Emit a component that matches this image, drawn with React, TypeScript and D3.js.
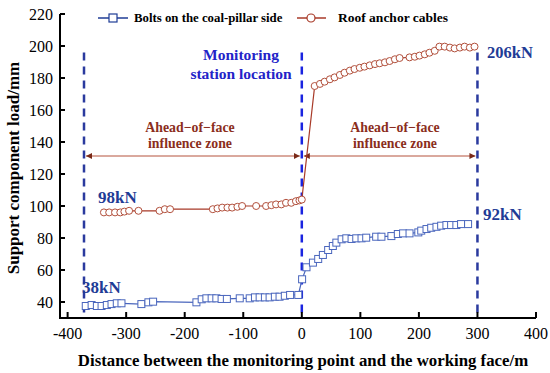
import React from "react";
import * as d3 from "d3";

// roof anchor cables (red circles)
const cableX = [-338, -329, -319, -310, -303, -295, -279, -243, -234, -225, -152, -144, -136, -127, -119, -110, -102, -78, -61, -52, -44, -35, -27, -18, -10, -4, 0,
  22, 31, 39, 48, 56, 65, 73, 82, 90, 99, 107, 116, 125, 133, 142, 150, 159, 167, 184, 193, 201, 210, 218, 227, 235, 244, 253, 261, 270, 278, 287, 295];
const cableY = [96, 96, 96, 96, 96.5, 97, 97, 97, 98, 98, 98, 98.5, 99, 99, 99, 99.5, 100, 100, 100, 100.5, 101, 101, 102, 102, 103, 103.5, 104,
  175, 176.3, 177.7, 179.2, 180.4, 181.9, 183.3, 184.6, 185.6, 186.4, 187.1, 187.9, 188.7, 189.2, 189.8, 190.6, 191.7, 192.5, 192.9, 193.3, 194, 194.8, 195.8, 197, 199.6, 199.6, 199, 198.5, 199, 199.6, 199, 199.6];

// bolts on the coal-pillar side (blue squares)
const boltX = [-369, -359, -350, -342, -333, -325, -316, -308, -274, -262, -254, -180, -171, -163, -154, -146, -137, -128, -106, -89, -80, -72, -63, -55, -46, -38, -29, -20, -6,
  0.5, 8, 19, 28, 36, 45, 53, 59, 68, 76, 85, 93, 102, 110, 127, 136, 153, 164, 173, 184, 199, 204, 213, 221, 230, 238, 247, 255, 264, 272, 284];
const boltY = [37.5, 38.1, 37.5, 37.5, 38.1, 38.7, 39.2, 39.2, 38.7, 39.8, 40.2, 39.8, 41.7, 42.3, 42.3, 42.3, 41.9, 41.9, 42.3, 42.3, 42.9, 42.9, 42.9, 42.9, 43.3, 43.3, 43.9, 44.4, 44.4,
  54.2, 61.7, 64.6, 66.9, 69.4, 72.5, 75, 77.1, 79.2, 79.8, 79.4, 79.8, 79.8, 80.2, 80.8, 80.8, 81.2, 82.5, 82.9, 82.9, 83.5, 84.6, 85.6, 86.4, 87, 87.7, 88.1, 88.1, 88.1, 88.7, 88.7];

const xTicks = [-400, -300, -200, -100, 0, 100, 200, 300, 400];
const yTicks = [40, 60, 80, 100, 120, 140, 160, 180, 200, 220];
const guideLines = [-372, 0, 300];

const W = 550, H = 373;
const serif = "'Liberation Serif', 'Times New Roman', serif";

export default function App() {
  const x = d3.scaleLinear().domain([-413, 400]).range([60, 536]);
  const y = d3.scaleLinear().domain([30, 220]).range([318, 14]);

  const cablePts = cableX.map((v, i) => [x(v), y(cableY[i])] as [number, number]);
  const boltPts = boltX.map((v, i) => [x(v), y(boltY[i])] as [number, number]);
  const path = d3.line();

  const blue = "#4a66bd";
  const red = "#b2503c";
  const navy = "#1f3c96";
  const brown = "#8b2e1c";
  const arrowC = "#b5533c";
  const arrowY = 156;

  return (
    <svg width={W} height={H} style={{ position: "absolute", left: 0, top: 0, background: "#fff" }} fontFamily={serif}>
      <defs>
        <marker id="ah" viewBox="0 0 10 10" refX="10" refY="5" markerWidth="6" markerHeight="6" orient="auto-start-reverse">
          <path d="M0,0 L10,5 L0,10 z" fill="#7a2a18" />
        </marker>
      </defs>

      {/* guide lines */}
      {guideLines.map((g, i) => (
        <line key={g} x1={x(g)} x2={x(g)} y1={y(196)} y2={y(30)}
          stroke={i === 1 ? "#1a24e0" : "#2a3a9e"} strokeWidth={2.5} strokeDasharray="8,6" />
      ))}

      {/* arrows */}
      <line x1={x(-372) + 2} x2={x(0) - 2} y1={arrowY} y2={arrowY} stroke={arrowC} strokeWidth={1}
        markerStart="url(#ah)" markerEnd="url(#ah)" />
      <line x1={x(0) + 2} x2={x(300) - 2} y1={arrowY} y2={arrowY} stroke={arrowC} strokeWidth={1}
        markerStart="url(#ah)" markerEnd="url(#ah)" />

      {/* series */}
      <path d={path(cablePts) || ""} fill="none" stroke="#a83a28" strokeWidth={1.2} />
      {cablePts.map((p, i) => (
        <circle key={i} cx={p[0]} cy={p[1]} r={3.5} fill="#fff" stroke={red} strokeWidth={1} />
      ))}
      <path d={path(boltPts) || ""} fill="none" stroke={blue} strokeWidth={1.2} />
      {boltPts.map((p, i) => (
        <rect key={i} x={p[0] - 3.5} y={p[1] - 3.5} width={7} height={7} fill="#fff" stroke={blue} strokeWidth={1} />
      ))}

      {/* axes */}
      <line x1={60} x2={60} y1={y(220)} y2={y(30)} stroke="#000" strokeWidth={2} />
      <line x1={59} x2={x(400)} y1={y(30)} y2={y(30)} stroke="#000" strokeWidth={2} />
      {yTicks.map(t => (
        <g key={t}>
          <line x1={60} x2={65} y1={y(t)} y2={y(t)} stroke="#000" strokeWidth={2} />
          <text x={53} y={y(t)} dy="0.35em" textAnchor="end" fontSize={16}>{t}</text>
        </g>
      ))}
      {xTicks.map(t => (
        <g key={t}>
          <line x1={x(t)} x2={x(t)} y1={y(30)} y2={y(30) - 6} stroke="#000" strokeWidth={2} />
          <text x={x(t)} y={339} textAnchor="middle" fontSize={16}>{t}</text>
        </g>
      ))}

      {/* axis titles */}
      <text x={303} y={366} textAnchor="middle" fontSize={16.8} fontWeight="bold">
        Distance between the monitoring point and the working face/m
      </text>
      <text transform="translate(19,168) rotate(-90)" textAnchor="middle" fontSize={17} fontWeight="bold">
        Support component load/mm
      </text>

      {/* legend */}
      <line x1={98} x2={128} y1={18} y2={18} stroke={navy} strokeWidth={1.5} />
      <rect x={109} y={14} width={8} height={8} fill="#fff" stroke={navy} strokeWidth={1.2} />
      <text x={134} y={22} fontSize={12.8} fontWeight="bold">Bolts on the coal-pillar side</text>
      <line x1={297} x2={326} y1={18} y2={18} stroke="#a83a28" strokeWidth={1.5} />
      <circle cx={311} cy={18} r={4} fill="#fff" stroke="#a83a28" strokeWidth={1.2} />
      <text x={338} y={22} fontSize={13.5} fontWeight="bold">Roof anchor cables</text>

      {/* annotations */}
      <text x={241} y={60} textAnchor="middle" fontSize={15.5} fontWeight="bold" fill="#2323c8">Monitoring</text>
      <text x={241} y={79} textAnchor="middle" fontSize={15.5} fontWeight="bold" fill="#2323c8">station location</text>

      <text x={190} y={132} textAnchor="middle" fontSize={13.8} fontWeight="bold" fill={brown}>Ahead−of−face</text>
      <text x={190} y={148} textAnchor="middle" fontSize={13.8} fontWeight="bold" fill={brown}>influence zone</text>
      <text x={395} y={132} textAnchor="middle" fontSize={13.8} fontWeight="bold" fill={brown}>Ahead−of−face</text>
      <text x={395} y={148} textAnchor="middle" fontSize={13.8} fontWeight="bold" fill={brown}>influence zone</text>

      <text x={98} y={203} fontSize={17} fontWeight="bold" fill={navy}>98kN</text>
      <text x={82} y={293} fontSize={17} fontWeight="bold" fill={navy}>38kN</text>
      <text x={487} y={58} fontSize={16.5} fontWeight="bold" fill={navy}>206kN</text>
      <text x={483} y={220} fontSize={17} fontWeight="bold" fill={navy}>92kN</text>
    </svg>
  );
}
